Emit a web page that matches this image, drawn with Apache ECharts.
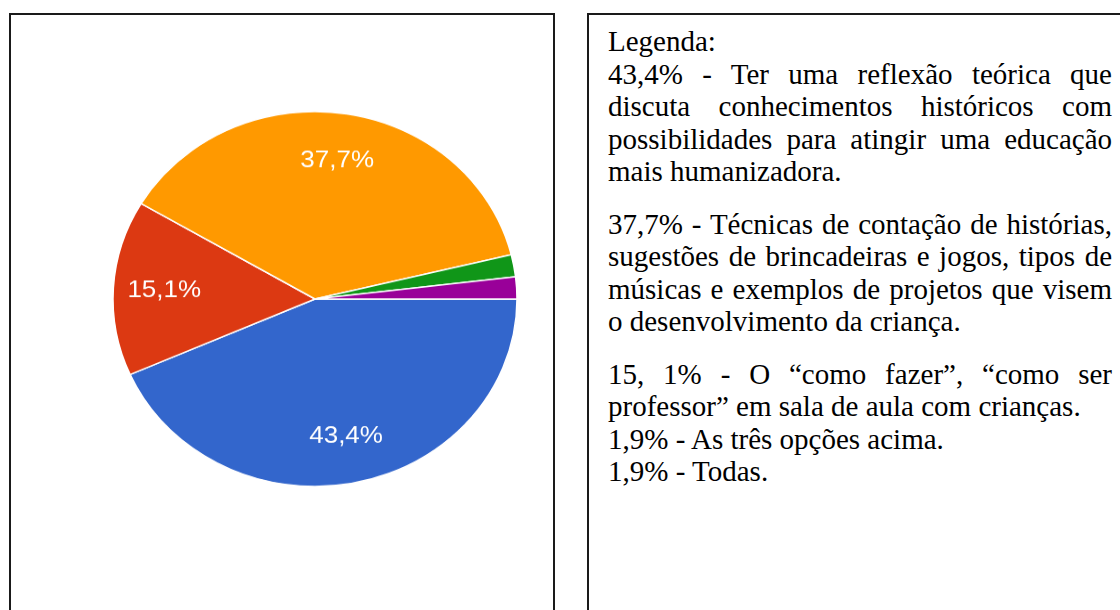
<!DOCTYPE html>
<html>
<head>
    <meta charset="utf-8">
    <title>Legenda</title>
    <script src="https://cdn.jsdelivr.net/npm/echarts@6/dist/echarts.min.js"></script>
    <style>
        html, body { margin: 0; padding: 0; background: #fff; overflow: hidden; width: 1120px; height: 610px; }
        .caixa { position: absolute; top: 13px; height: 700px; border: 2px solid #1a1a1a; box-sizing: border-box; }
        #esq { left: 9px; width: 546px; }
        #dir { left: 587px; width: 600px; }
        /* o grafico original esta um pouco achatado na vertical */
        #main { position: absolute; left: 95px; top: 79px; width: 440px; height: 440px;
                transform: scaleY(0.928); transform-origin: 50% 50%; }
        #legenda { position: absolute; left: 608px; top: 25px; width: 504px;
                   font-family: "Liberation Serif", "Times New Roman", serif; font-size: 29px;
                   line-height: 32.5px; color: #000; text-align: justify; }
        #legenda p { margin: 0; }
        #legenda p.espaco { margin-bottom: 20px; }
    </style>
</head>
<body>
<div class="caixa" id="esq"></div>
<div class="caixa" id="dir"></div>
<div id="main"></div>

<div id="legenda">
    <p>Legenda:</p>
    <p class="espaco">43,4% - Ter uma reflexão teórica que discuta conhecimentos históricos com possibilidades para atingir uma educação mais humanizadora.</p>
    <p class="espaco">37,7% - Técnicas de contação de histórias, sugestões de brincadeiras e jogos, tipos de músicas e exemplos de projetos que visem o desenvolvimento da criança.</p>
    <p>15, 1% - O “como fazer”, “como ser professor” em sala de aula com crianças.</p>
    <p>1,9% - As três opções acima.</p>
    <p>1,9% - Todas.</p>
</div>

<script type="text/javascript">
    // dados do grafico (ordem das fatias no sentido horario, a partir das 3 horas)
    var categorias = ['Reflexão teórica', 'Como fazer', 'Técnicas', 'As três opções acima', 'Todas'];
    var valores = [43.4, 15.1, 37.7, 1.9, 1.9];
    var cores = ['#3366cc', '#dc3912', '#ff9900', '#109618', '#990099'];

    var dados = categorias.map(function (nome, i) {
        return { name: nome, value: valores[i] };
    });

    var myChart = echarts.init(document.getElementById('main'));

    var option = {
        animation: false,
        color: cores,
        series: [
            {
                name: 'fatias',
                type: 'pie',
                center: ['50%', '50%'],
                radius: 202,
                startAngle: 0,
                clockwise: true,
                data: dados,
                label: { show: false },
                labelLine: { show: false },
                emphasis: { disabled: true },
                itemStyle: { borderColor: '#fff', borderWidth: 1.5 }
            },
            {
                // anel transparente so para posicionar os rotulos mais para fora
                name: 'rotulos',
                type: 'pie',
                center: ['50%', '50%'],
                radius: [94, 202],
                startAngle: 0,
                clockwise: true,
                silent: true,
                z: 3,
                data: dados,
                itemStyle: { color: 'transparent', borderWidth: 0 },
                emphasis: { disabled: true },
                labelLine: { show: false },
                label: {
                    show: true,
                    position: 'inside',
                    color: '#fff',
                    fontFamily: '"Liberation Sans", Arial, sans-serif',
                    fontSize: 26,
                    textBorderWidth: 0,
                    formatter: function (p) {
                        if (p.value < 5) return '';
                        return p.value.toFixed(1).replace('.', ',') + '%';
                    }
                }
            }
        ]
    };

    myChart.setOption(option);
</script>
</body>
</html>
